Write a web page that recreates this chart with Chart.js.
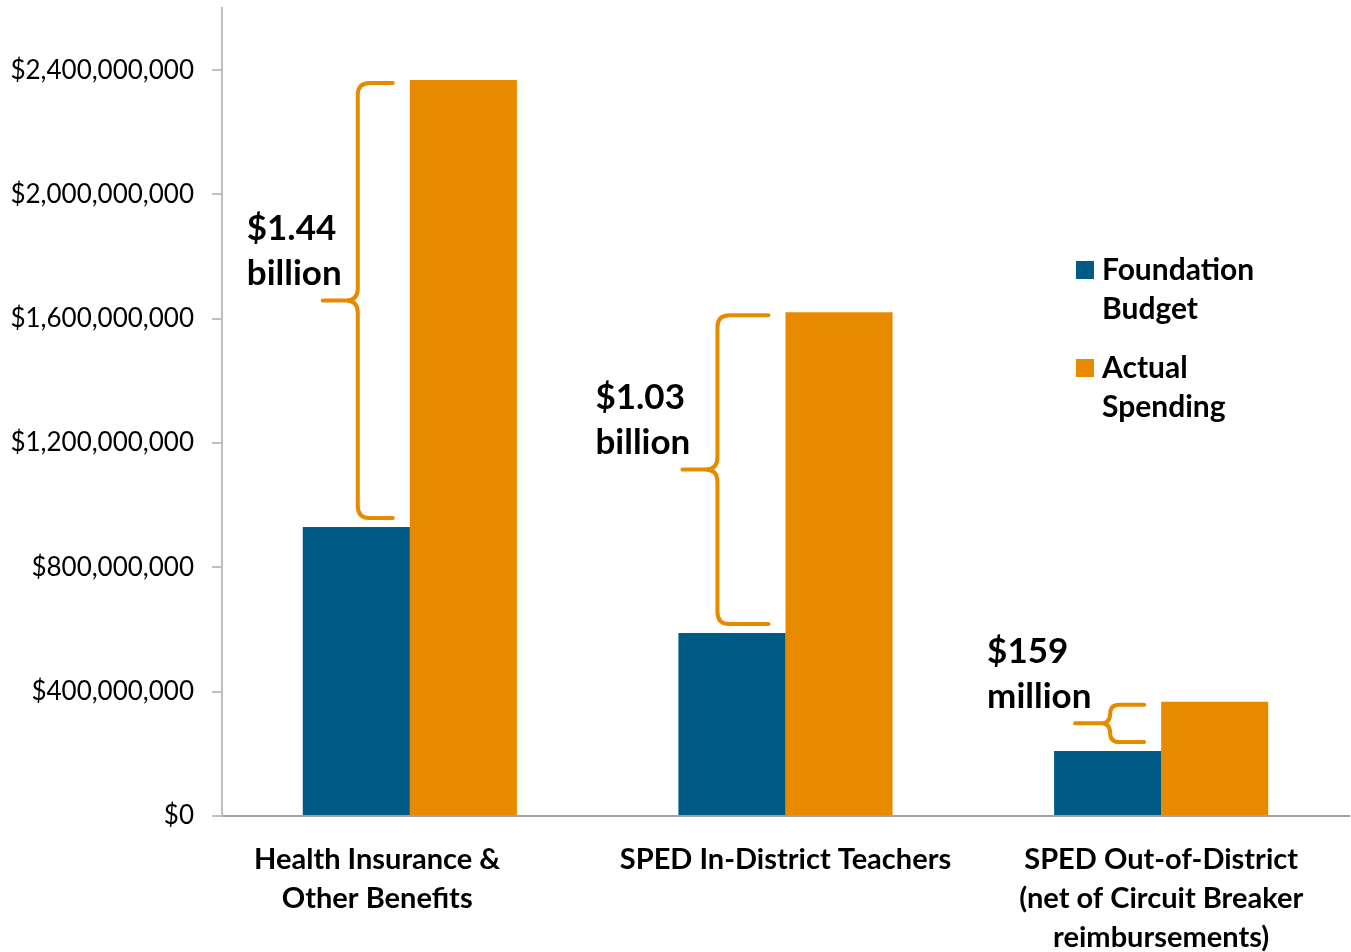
<!DOCTYPE html>
<html>
<head>
<meta charset="utf-8">
<script src="https://cdn.jsdelivr.net/npm/chart.js@4"></script>
<style>
  body { margin: 0; background: #fff; }
</style>
</head>
<body>
<canvas id="myChart" width="1351" height="952"></canvas>
<script>
// the first category label sits a little left of its bars in the original
const shiftLeft = "\u2003\u2003\u2003";
const categories = [
  ["Health Insurance &" + shiftLeft, "Other Benefits" + shiftLeft],
  "SPED In-District Teachers",
  ["SPED Out-of-District", "(net of Circuit Breaker", "reimbursements)"],
];
const foundationBudget = [930000000, 589000000, 209000000];
const actualSpending = [2368000000, 1621000000, 368000000];
const gapLabels = [["$1.44", "billion"], ["$1.03", "billion"], ["$159", "million"]];
const legendLines = [["Foundation", "Budget"], ["Actual", "Spending"]];
const yTickValues = [0, 400000000, 800000000, 1200000000, 1600000000, 2000000000, 2400000000];
const yMax = 2600000000;

const BLUE = "#005B84";
const ORANGE = "#E88A00";
const FONT = "Lato, 'Open Sans', sans-serif";

// braces between the two bars of each group, plus the legend box on the right
const bracePlugin = {
  id: "braces",
  afterDatasetsDraw(chart) {
    const { ctx } = chart;
    const y = chart.scales.y;
    const blue = chart.getDatasetMeta(0).data;
    const orange = chart.getDatasetMeta(1).data;
    const braceDx = [55, 39, 56];
    const textDx = [-76, -87, -88];

    ctx.save();
    ctx.strokeStyle = ORANGE;
    ctx.lineWidth = 4;
    ctx.lineCap = "round";
    ctx.lineJoin = "round";
    for (let i = 0; i < categories.length; i++) {
      const bx = blue[i].x - blue[i].width / 2 + braceDx[i];
      const xEnd = orange[i].x - orange[i].width / 2 - 17;
      const yTop = y.getPixelForValue(actualSpending[i]) + 3;
      const yBot = y.getPixelForValue(foundationBudget[i]) - 9;
      const yMid = (yTop + yBot) / 2;
      const r = Math.min(12, (yBot - yTop) / 4);
      const tip = bx - 35;

      ctx.beginPath();
      ctx.moveTo(xEnd, yTop);
      ctx.lineTo(bx + r, yTop);
      ctx.quadraticCurveTo(bx, yTop, bx, yTop + r);
      ctx.lineTo(bx, yMid - r);
      ctx.quadraticCurveTo(bx, yMid, bx - r, yMid);
      ctx.lineTo(tip, yMid);
      ctx.moveTo(bx - r, yMid);
      ctx.quadraticCurveTo(bx, yMid, bx, yMid + r);
      ctx.lineTo(bx, yBot - r);
      ctx.quadraticCurveTo(bx, yBot, bx + r, yBot);
      ctx.lineTo(xEnd, yBot);
      ctx.stroke();

      ctx.fillStyle = "#000";
      ctx.font = "bold 35px " + FONT;
      ctx.textAlign = "left";
      ctx.textBaseline = "middle";
      ctx.fillText(gapLabels[i][0], tip + textDx[i], yMid - 72);
      ctx.fillText(gapLabels[i][1], tip + textDx[i], yMid - 27);
    }

    // legend
    const colors = [BLUE, ORANGE];
    const lx = chart.chartArea.right - 273;
    let ly = 270;
    ctx.font = "bold 30px " + FONT;
    ctx.textBaseline = "middle";
    legendLines.forEach((lines, k) => {
      ctx.fillStyle = colors[k];
      ctx.fillRect(lx, ly - 9, 18, 18);
      ctx.fillStyle = "#000";
      lines.forEach((t, j) => ctx.fillText(t, lx + 26, ly + j * 39));
      ly += 98;
    });
    ctx.restore();
  },
};

new Chart(document.getElementById("myChart"), {
  type: "bar",
  data: {
    labels: categories,
    datasets: [
      {
        label: "Foundation Budget",
        data: foundationBudget,
        backgroundColor: BLUE,
        categoryPercentage: 0.57,
        barPercentage: 1,
      },
      {
        label: "Actual Spending",
        data: actualSpending,
        backgroundColor: ORANGE,
        categoryPercentage: 0.57,
        barPercentage: 1,
      },
    ],
  },
  options: {
    responsive: false,
    animation: false,
    layout: { padding: { top: 8, right: 2, left: 0, bottom: 0 } },
    plugins: {
      legend: { display: false },
      tooltip: { enabled: false },
    },
    scales: {
      x: {
        grid: { display: false },
        border: { color: "#A0A0A0", width: 2 },
        afterFit: (scale) => {
          scale.height = 136;
          scale.paddingLeft = 0;
          scale.paddingRight = 0;
        },
        ticks: {
          color: "#000",
          padding: 16,
          maxRotation: 0,
          font: { family: FONT, size: 29, weight: "bold", lineHeight: 39 / 29 },
        },
      },
      y: {
        min: 0,
        max: yMax,
        afterBuildTicks: (scale) => {
          scale.ticks = yTickValues.map((v) => ({ value: v }));
        },
        afterFit: (scale) => {
          scale.width = 222;
          scale.paddingTop = 0;
          scale.paddingBottom = 0;
        },
        grid: {
          drawOnChartArea: false,
          drawTicks: true,
          tickLength: 10,
          color: "#BFBFBF",
          lineWidth: 2,
        },
        border: { color: "#BFBFBF", width: 2 },
        ticks: {
          padding: 18,
          color: "#000",
          font: { family: FONT, size: 26 },
          callback: (v) => "$" + Number(v).toLocaleString("en-US"),
        },
      },
    },
  },
  plugins: [bracePlugin],
});
</script>
</body>
</html>
